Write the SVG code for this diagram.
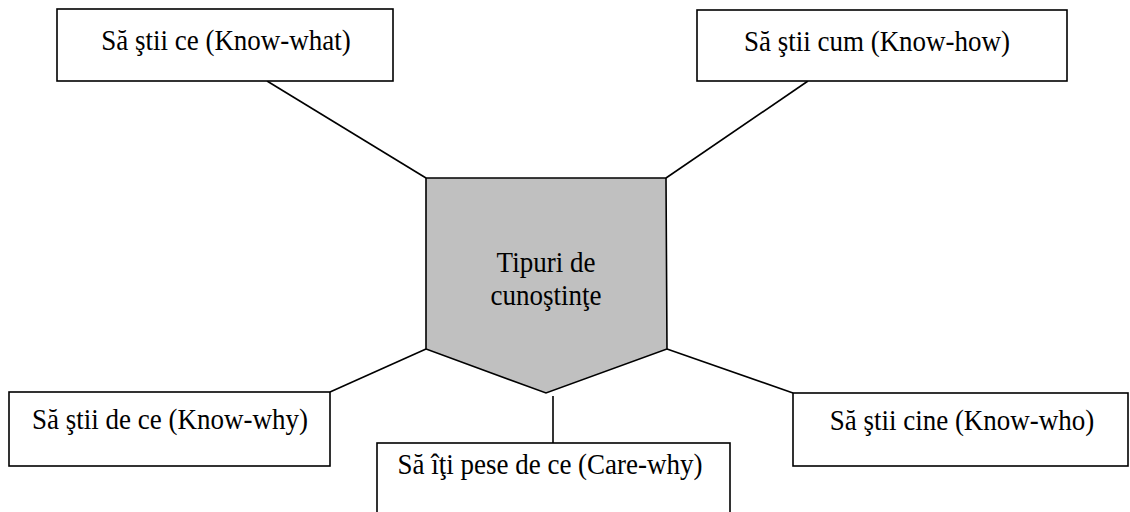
<svg xmlns="http://www.w3.org/2000/svg" width="1130" height="512" viewBox="0 0 1130 512">
  <style>
    .box { fill: #ffffff; stroke: #000000; stroke-width: 1.6; }
    .hub { fill: #c0c0c0; stroke: #000000; stroke-width: 1.6; }
    .link { stroke: #000000; stroke-width: 1.6; fill: none; }
    .lbl { font-family: "Liberation Serif", "Times New Roman", serif; font-size: 27px; fill: #000000; text-anchor: middle; }
  </style>
  <rect width="1130" height="512" fill="#ffffff"/>

  <!-- connectors from the central shape to each knowledge type -->
  <g id="connectors">
    <line class="link" x1="267" y1="81" x2="426" y2="178"/>
    <line class="link" x1="808" y1="81" x2="666" y2="178"/>
    <line class="link" x1="330" y1="392" x2="426" y2="349"/>
    <line class="link" x1="793" y1="393" x2="667" y2="349"/>
    <line class="link" x1="553" y1="396" x2="553" y2="443"/>
  </g>

  <!-- labels are set slightly tall: each text is placed by translate, then stretched vertically -->
  <g id="hub">
    <polygon class="hub" points="426,178 666,178 667,349 546,393 426,349"/>
    <text class="lbl" transform="translate(546,272) scale(1,1.08)">Tipuri de</text>
    <text class="lbl" transform="translate(546,305) scale(1,1.08)">cunoştinţe</text>
  </g>

  <g id="know-what">
    <rect class="box" x="57" y="9" width="336" height="72"/>
    <text class="lbl" transform="translate(226,50) scale(1,1.1)">Să ştii ce (Know-what)</text>
  </g>

  <g id="know-how">
    <rect class="box" x="697" y="10" width="370" height="71"/>
    <text class="lbl" transform="translate(877,51) scale(1,1.1)">Să ştii cum (Know-how)</text>
  </g>

  <g id="know-why">
    <rect class="box" x="9" y="392" width="321" height="74"/>
    <text class="lbl" transform="translate(170,429) scale(1,1.1)">Să ştii de ce (Know-why)</text>
  </g>

  <g id="know-who">
    <rect class="box" x="793" y="393" width="335" height="73"/>
    <text class="lbl" transform="translate(962,430) scale(1,1.1)">Să ştii cine (Know-who)</text>
  </g>

  <g id="care-why">
    <rect class="box" x="377" y="443" width="353" height="80"/>
    <text class="lbl" transform="translate(550,474) scale(1,1.1)">Să îţi pese de ce (Care-why)</text>
  </g>
</svg>
